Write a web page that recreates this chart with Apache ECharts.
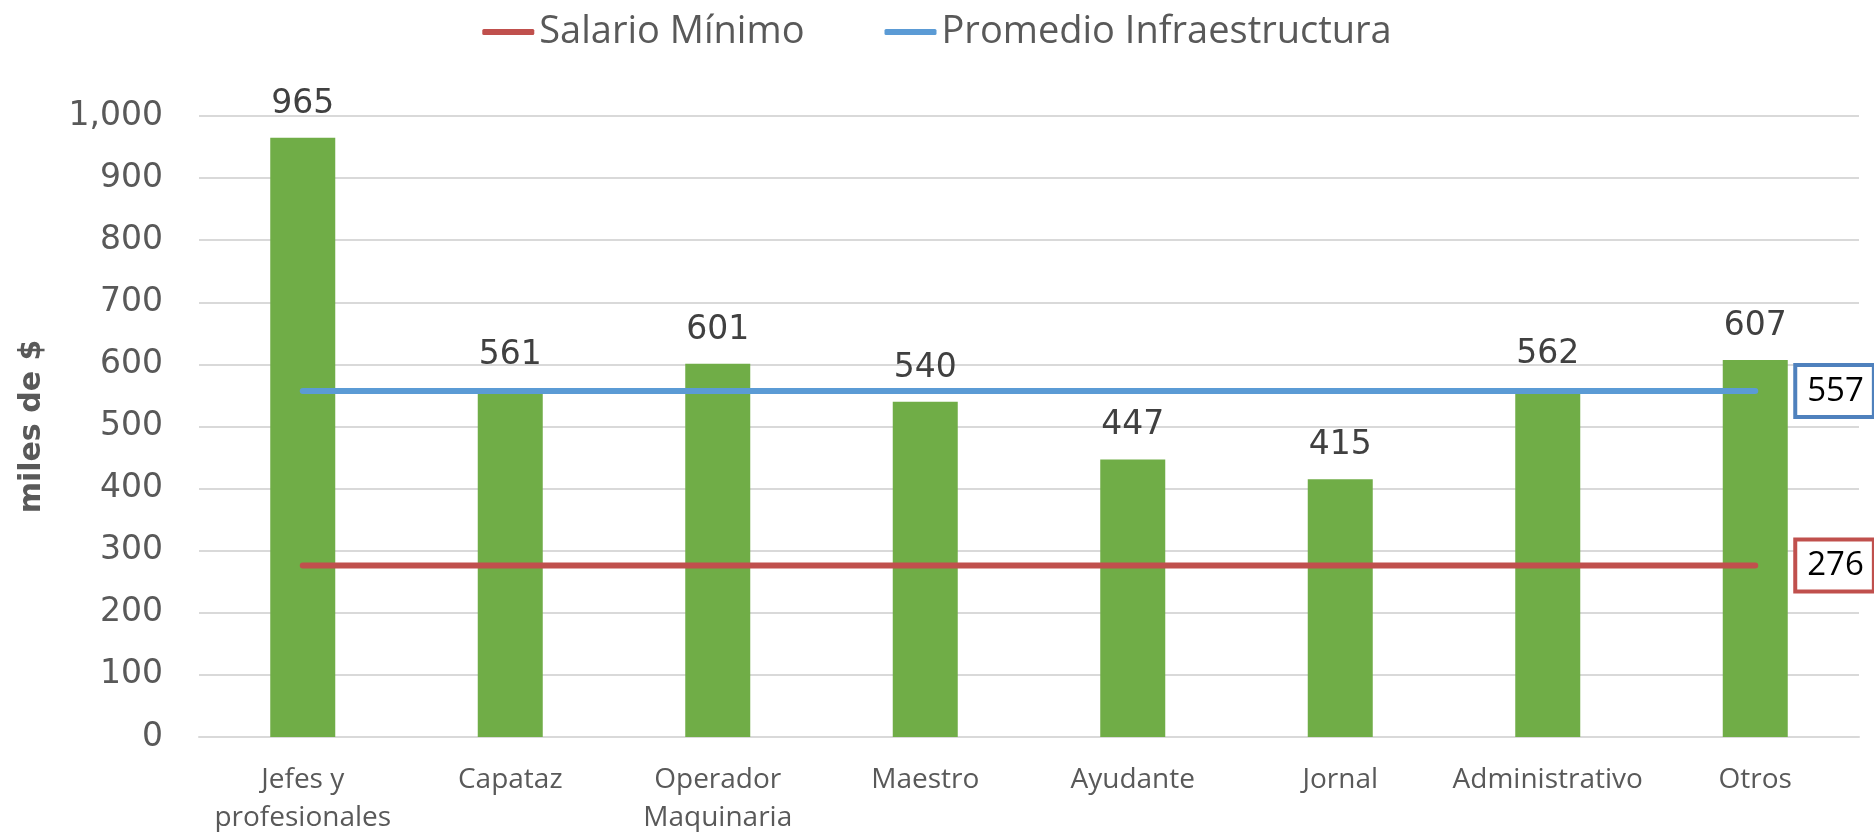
<!DOCTYPE html>
<html>
<head>
<meta charset="utf-8">
<script src="https://cdn.jsdelivr.net/npm/echarts@6/dist/echarts.min.js"></script>
<style>
  html, body { margin: 0; padding: 0; background: #fff; }
  #chart { width: 1874px; height: 832px; }
</style>
</head>
<body>
<div id="chart"></div>
<script>
var categorias = ['Jefes y\nprofesionales', 'Capataz', 'Operador\nMaquinaria', 'Maestro', 'Ayudante', 'Jornal', 'Administrativo', 'Otros'];
var salarios = [965, 561, 601, 540, 447, 415, 562, 607];
var salarioMinimo = [276, 276, 276, 276, 276, 276, 276, 276];
var promedioInfra = [557, 557, 557, 557, 557, 557, 557, 557];
var yTicks = [0, 1000, 100];

var narrow = '"Open Sans", sans-serif';
var wide = '"DejaVu Sans", sans-serif';

// etiqueta en caja al final de cada linea
function etiquetaFinal(color) {
  return {
    show: true,
    distance: 42,
    formatter: '{c}',
    color: '#000',
    fontFamily: narrow,
    fontSize: 33,
    backgroundColor: '#fff',
    borderColor: color,
    borderWidth: 4,
    padding: [8, 8, 7, 10]
  };
}

var chart = echarts.init(document.getElementById('chart'));
var option = {
  animation: false,
  legend: {
    top: 8,
    left: 'center',
    itemWidth: 52,
    itemHeight: 6,
    itemGap: 80,
    icon: 'roundRect',
    textStyle: { fontFamily: narrow, fontSize: 38, color: '#595959' },
    data: ['Salario Mínimo', 'Promedio Infraestructura']
  },
  grid: { left: 199, right: 15, top: 116, bottom: 95, outerBoundsMode: 'none' },
  xAxis: {
    type: 'category',
    data: categorias,
    axisLine: { lineStyle: { color: '#d9d9d9', width: 2 } },
    axisTick: { show: false },
    axisLabel: {
      fontFamily: narrow,
      fontSize: 28,
      color: '#595959',
      lineHeight: 38,
      margin: 24,
      interval: 0
    }
  },
  yAxis: {
    type: 'value',
    min: yTicks[0],
    max: yTicks[1],
    interval: yTicks[2],
    name: 'miles de $',
    nameLocation: 'middle',
    nameGap: 152,
    nameTextStyle: { fontFamily: wide, fontSize: 30, fontWeight: 'bold', color: '#595959' },
    axisLine: { show: false },
    axisTick: { show: false },
    splitLine: { lineStyle: { color: '#d9d9d9', width: 2 } },
    axisLabel: {
      fontFamily: wide,
      fontSize: 33,
      color: '#595959',
      margin: 36,
      formatter: function (v) { return v.toLocaleString('en-US'); }
    }
  },
  series: [
    {
      name: 'Salarios',
      type: 'bar',
      data: salarios,
      barWidth: 65,
      itemStyle: { color: '#70AD47' },
      label: {
        show: true,
        position: 'top',
        distance: 17,
        fontFamily: wide,
        fontSize: 33,
        color: '#404040'
      }
    },
    {
      name: 'Salario Mínimo',
      type: 'line',
      data: salarioMinimo,
      symbol: 'none',
      lineStyle: { color: '#C0504D', width: 6, cap: 'round' },
      itemStyle: { color: '#C0504D' },
      endLabel: etiquetaFinal('#C0504D'),
      z: 3
    },
    {
      name: 'Promedio Infraestructura',
      type: 'line',
      data: promedioInfra,
      symbol: 'none',
      lineStyle: { color: '#5B9BD5', width: 6, cap: 'round' },
      itemStyle: { color: '#5B9BD5' },
      endLabel: etiquetaFinal('#4F81BD'),
      z: 3
    }
  ]
};
chart.setOption(option);
</script>
</body>
</html>
